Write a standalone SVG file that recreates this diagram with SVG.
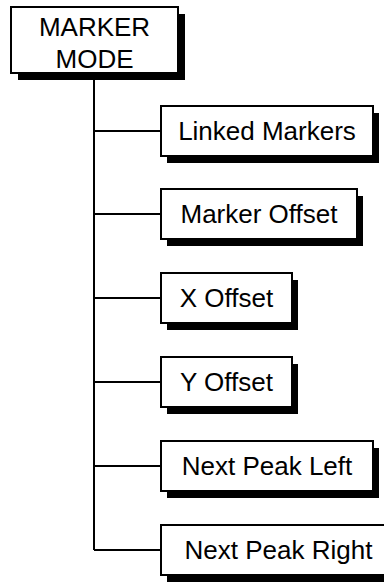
<svg xmlns="http://www.w3.org/2000/svg" width="384" height="583" viewBox="0 0 384 583">
<style>
.box{fill:#fff;stroke:#000;stroke-width:2}
.sh{fill:#000}
.t{font-family:"Liberation Sans",Arial,sans-serif;font-size:26px;fill:#000;text-anchor:middle}
.c{stroke:#000;stroke-width:2;fill:none}
</style>
<rect width="384" height="583" fill="#fff"/>
<g id="connectors">
<path class="c" d="M94,73V550"/>
<path class="c" d="M94,131H161M94,214H161M94,298H161M94,382H161M94,466H161M94,550H161"/>
</g>
<g id="marker-mode">
<rect class="sh" x="18" y="14" width="167" height="66"/>
<rect class="box" x="11" y="7" width="167" height="66"/>
<text class="t" x="94.5" y="36">MARKER</text>
<text class="t" x="94.5" y="68">MODE</text>
</g>
<g id="linked-markers">
<rect class="sh" x="167" y="113" width="212" height="50"/>
<rect class="box" x="161" y="106" width="212" height="50"/>
<text class="t" x="267" y="140">Linked Markers</text>
</g>
<g id="marker-offset">
<rect class="sh" x="167" y="196" width="196" height="50"/>
<rect class="box" x="161" y="189" width="196" height="50"/>
<text class="t" x="259" y="223">Marker Offset</text>
</g>
<g id="x-offset">
<rect class="sh" x="167" y="280" width="131" height="50"/>
<rect class="box" x="161" y="273" width="131" height="50"/>
<text class="t" x="226.5" y="307">X Offset</text>
</g>
<g id="y-offset">
<rect class="sh" x="167" y="364" width="131" height="50"/>
<rect class="box" x="161" y="357" width="131" height="50"/>
<text class="t" x="226.5" y="391">Y Offset</text>
</g>
<g id="next-peak-left">
<rect class="sh" x="167" y="448" width="212" height="50"/>
<rect class="box" x="161" y="441" width="212" height="50"/>
<text class="t" x="267" y="475">Next Peak Left</text>
</g>
<g id="next-peak-right">
<rect class="sh" x="167" y="532" width="235" height="50"/>
<rect class="box" x="161" y="525" width="235" height="50"/>
<text class="t" x="278.5" y="559">Next Peak Right</text>
</g>
</svg>
